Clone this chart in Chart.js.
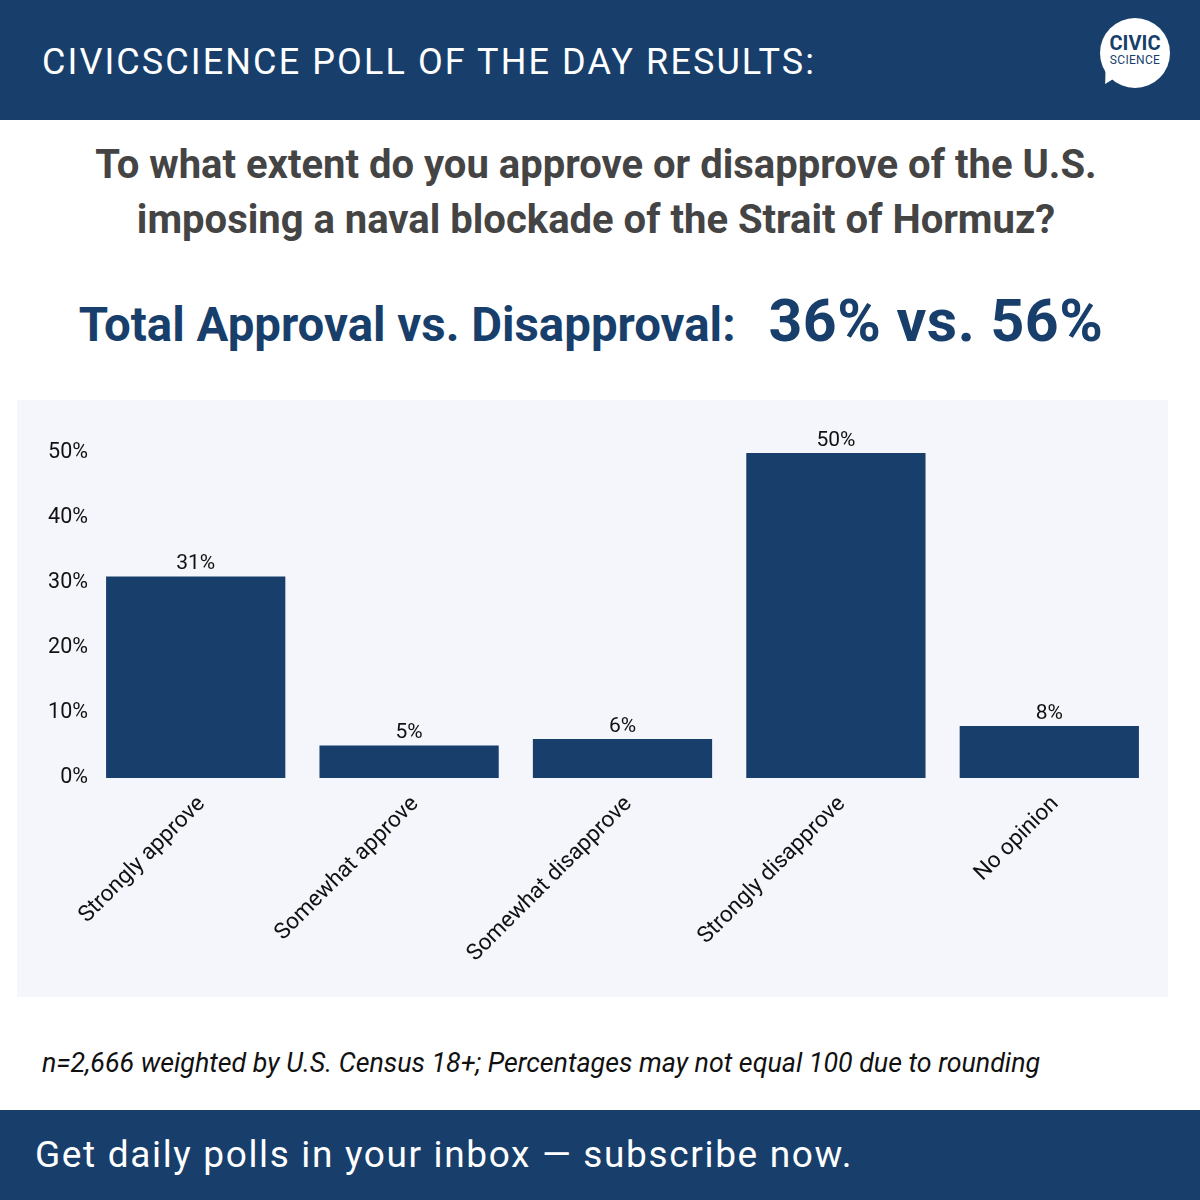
<!DOCTYPE html>
<html>
<head>
<meta charset="utf-8">
<script src="https://cdn.jsdelivr.net/npm/chart.js@4.4.1/dist/chart.umd.min.js"></script>
<style>
  body { margin: 0; width: 1200px; height: 1200px; position: relative; background: #fff; font-family: Roboto, "Noto Sans", sans-serif; overflow: hidden; }
  .top { position: absolute; left: 0; top: 0; width: 1200px; height: 120px; background: #183f6c; }
  .top h1 { position: absolute; left: 42px; top: 41px; margin: 0; color: #fff; font-weight: 400; font-size: 36px; letter-spacing: 2.1px; }
  .logo { position: absolute; left: 1100px; top: 18px; width: 70px; height: 70px; border-radius: 50%; background: #fff; text-align: center; }
  .logo .tail { position: absolute; left: 2px; top: 50px; width: 0; height: 0; border-left: 6px solid transparent; border-right: 14px solid transparent; border-top: 18px solid #fff; transform: rotate(20deg); }
  .logo .a { position: absolute; left: 0; width: 70px; top: 15px; font-size: 20px; font-weight: 700; color: #183f6c; line-height: 20px; }
  .logo .b { position: absolute; left: 0; width: 70px; top: 35px; font-size: 12px; color: #183f6c; line-height: 14px; letter-spacing: 0.3px; }
  .question { position: absolute; left: -4px; top: 137px; width: 1200px; text-align: center; color: #444; font-weight: 700; font-size: 40px; line-height: 55px; }
  .total { position: absolute; left: -9px; top: 286px; width: 1200px; text-align: center; color: #183f6c; font-weight: 700; white-space: nowrap; }
  .total .l { font-size: 47.4px; }
  .total .r { font-size: 59px; margin-left: 33px; letter-spacing: 0.5px; }
  .panel { position: absolute; left: 17px; top: 400px; width: 1151px; height: 597px; background: #f5f6fb; }
  .note { position: absolute; left: 42px; top: 1047px; font-style: italic; font-size: 26.8px; color: #111; }
  .bottom { position: absolute; left: 0; top: 1110px; width: 1200px; height: 90px; background: #183f6c; }
  .bottom p { position: absolute; left: 35px; top: 23px; margin: 0; color: #fff; font-size: 37px; letter-spacing: 1.65px; }
</style>
</head>
<body>
<div class="top">
  <h1>CIVICSCIENCE POLL OF THE DAY RESULTS:</h1>
  <div class="logo"><div class="tail"></div><div class="a">CIVIC</div><div class="b">SCIENCE</div></div>
</div>
<div class="question">To what extent do you approve or disapprove of the U.S.<br>imposing a naval blockade of the Strait of Hormuz?</div>
<div class="total"><span class="l">Total Approval vs. Disapproval:</span><span class="r">36% vs. 56%</span></div>
<div class="panel"><canvas id="chart" width="1151" height="597"></canvas></div>
<div class="note">n=2,666 weighted by U.S. Census 18+; Percentages may not equal 100 due to rounding</div>
<div class="bottom"><p>Get daily polls in your inbox — subscribe now.</p></div>

<script>
// answers and their shares
const answers = ['Strongly approve', 'Somewhat approve', 'Somewhat disapprove', 'Strongly disapprove', 'No opinion'];
const shares = [31, 5, 6, 50, 8];
const yTicks = [0, 10, 20, 30, 40, 50];

// writes the % over every bar
const barLabels = {
  id: 'barLabels',
  afterDatasetsDraw(chart) {
    const ctx = chart.ctx;
    const meta = chart.getDatasetMeta(0);
    ctx.save();
    ctx.font = '21px Roboto';
    ctx.fillStyle = '#111';
    ctx.textAlign = 'center';
    ctx.textBaseline = 'bottom';
    meta.data.forEach(function (bar, i) {
      ctx.fillText(shares[i] + '%', bar.x, bar.y - 2);
    });
    ctx.restore();
  }
};

new Chart(document.getElementById('chart'), {
  type: 'bar',
  data: {
    labels: answers,
    datasets: [{
      data: shares,
      backgroundColor: '#183f6c',
      barPercentage: 0.84,
      categoryPercentage: 1
    }]
  },
  options: {
    responsive: false,
    animation: false,
    layout: { padding: { top: 53, right: 12, left: 0, bottom: 0 } },
    plugins: { legend: { display: false }, tooltip: { enabled: false } },
    scales: {
      x: {
        grid: { display: false },
        border: { display: false },
        afterFit: function (s) { s.height = 219; },
        ticks: { color: '#111', font: { size: 22.5, family: 'Roboto' }, minRotation: 45, maxRotation: 45, padding: 5, labelOffset: 6 }
      },
      y: {
        min: 0,
        max: 50,
        grid: { display: false, drawTicks: false, tickLength: 0 },
        border: { display: false },
        afterFit: function (s) { s.width = 72; },
        afterBuildTicks: function (s) { s.ticks = yTicks.map(function (v) { return { value: v }; }); },
        ticks: {
          color: '#111',
          font: { size: 21.5, family: 'Roboto' },
          padding: 1,
          callback: function (v) { return v + '%'; }
        }
      }
    }
  },
  plugins: [barLabels]
});
</script>
</body>
</html>
